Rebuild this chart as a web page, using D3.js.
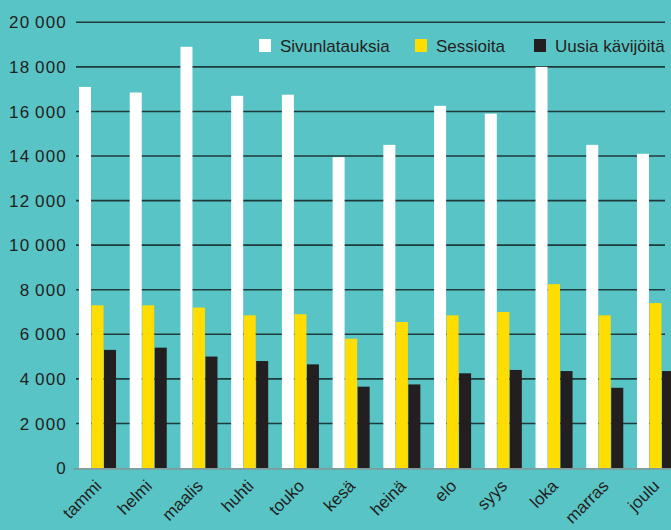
<!DOCTYPE html>
<html>
<head>
<meta charset="utf-8">
<script src="https://cdn.jsdelivr.net/npm/d3@7"></script>
<style>
  html, body { margin: 0; padding: 0; background: #59c4c5; }
  svg { display: block; }
  text { font-family: "Liberation Sans", Arial, sans-serif; fill: #231f20; }
</style>
</head>
<body>
<svg id="chart" width="671" height="530"></svg>
<script>
// Monthly web statistics
const months = ["tammi", "helmi", "maalis", "huhti", "touko", "kesä", "heinä", "elo", "syys", "loka", "marras", "joulu"];
const seriesNames = ["Sivunlatauksia", "Sessioita", "Uusia kävijöitä"];
const seriesColors = ["#ffffff", "#ffdd00", "#231f20"];
const pageLoads = [17100, 16850, 18900, 16700, 16750, 13950, 14500, 16250, 15900, 18000, 14500, 14100];
const sessions = [7300, 7300, 7200, 6850, 6900, 5800, 6550, 6850, 7000, 8250, 6850, 7400];
const newVisitors = [5300, 5400, 5000, 4800, 4650, 3650, 3750, 4250, 4400, 4350, 3600, 4350];
const yTicks = [0, 2000, 4000, 6000, 8000, 10000, 12000, 14000, 16000, 18000, 20000];

const values = [pageLoads, sessions, newVisitors];

const svg = d3.select("#chart");
const W = 671, H = 530;
svg.append("rect").attr("width", W).attr("height", H).attr("fill", "#59c4c5");

const y = d3.scaleLinear().domain([0, 20000]).range([468, 22.3]);
const x = d3.scaleBand().domain(months).range([79, 674]).paddingInner(0.27).paddingOuter(0);
const xs = d3.scaleBand().domain(d3.range(3)).range([0, x.bandwidth()]).paddingInner(0.04);

const gridLeft = 76, gridRight = 665;

// horizontal gridlines (not at zero)
svg.append("g").selectAll("line")
  .data(yTicks.filter(d => d > 0))
  .join("line")
  .attr("x1", gridLeft).attr("x2", gridRight)
  .attr("y1", d => y(d)).attr("y2", d => y(d))
  .attr("stroke", "#1f3a3b").attr("stroke-width", 1.6);

// y tick labels with a thin thousands separator
const fmt = d => {
  const s = String(d);
  return s.length > 3 ? s.slice(0, -3) + "\u2009" + s.slice(-3) : s;
};
svg.append("g").selectAll("text")
  .data(yTicks)
  .join("text")
  .attr("x", 67).attr("y", d => y(d)).attr("dy", "0.36em")
  .attr("text-anchor", "end")
  .attr("font-size", 17)
  .attr("letter-spacing", "1.2px")
  .text(fmt);

// bars
const groups = svg.append("g").selectAll("g")
  .data(months)
  .join("g")
  .attr("transform", m => `translate(${x(m)},0)`);

groups.selectAll("rect")
  .data((m, i) => values.map((arr, s) => ({ s, v: arr[i] })))
  .join("rect")
  .attr("x", d => xs(d.s))
  .attr("width", xs.bandwidth())
  .attr("y", d => y(d.v))
  .attr("height", d => y(0) - y(d.v))
  .attr("fill", d => seriesColors[d.s]);

// baseline
svg.append("line")
  .attr("x1", 73).attr("x2", W)
  .attr("y1", y(0) + 0.8).attr("y2", y(0) + 0.8)
  .attr("stroke", "#7f9c9c").attr("stroke-width", 1.8);

// month labels, rotated
svg.append("g").selectAll("text")
  .data(months)
  .join("text")
  .attr("transform", m => `translate(${x(m) + x.bandwidth() / 2 + 5},${y(0) + 19}) rotate(-45)`)
  .attr("text-anchor", "end")
  .attr("font-size", 17)
  .text(m => m);

// legend
const legendX = [259, 415, 534];
const legend = svg.append("g").selectAll("g")
  .data(seriesNames)
  .join("g")
  .attr("transform", (d, i) => `translate(${legendX[i]},39)`);
legend.append("rect")
  .attr("width", 12).attr("height", 13)
  .attr("fill", (d, i) => seriesColors[i]);
legend.append("text")
  .attr("x", 21).attr("y", 13)
  .attr("font-size", 17)
  .text(d => d);
</script>
</body>
</html>
